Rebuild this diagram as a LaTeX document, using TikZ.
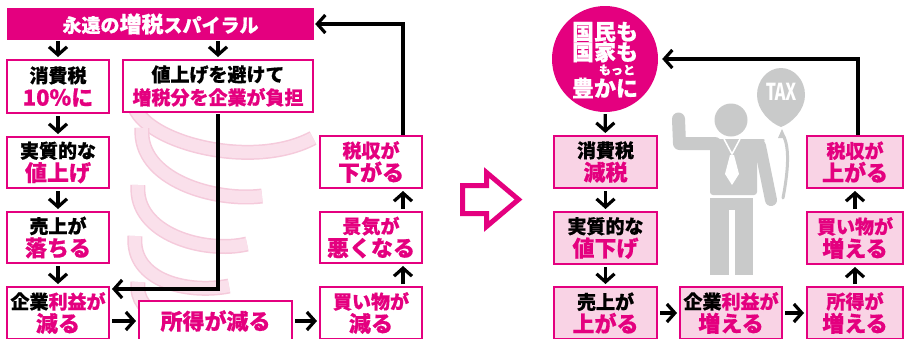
\documentclass[tikz,border=0pt]{standalone}
\usepackage{fontspec}
\setmainfont{Noto Sans CJK JP}[BoldFeatures={FakeBold=0.6}]
\newfontfamily\taxfont{Fira Sans}
\usetikzlibrary{arrows.meta,calc}
\definecolor{mag}{HTML}{E4007F}
\definecolor{pinkbg}{HTML}{F9D3E5}
\definecolor{swirl}{HTML}{FAE0EB}
\definecolor{swirledge}{HTML}{F5CADB}
\definecolor{figgray}{HTML}{C9CACA}
\newcommand\mg[1]{\textcolor{mag}{#1}}
\newcommand\biglineJ[1]{{\fontsize{22}{24}\selectfont #1}}
\tikzset{
  boxbase/.style={draw=mag, line width=2pt, align=center, inner sep=0pt,
    minimum width=102pt, minimum height=52pt,
    font=\bfseries\fontsize{19}{23}\selectfont},
  lbox/.style={boxbase, fill=white},
  rbox/.style={boxbase, fill=pinkbg},
  arr/.style={line width=3.2pt, -{Straight Barb[length=8pt,width=18pt]}},
  gap/.style={shorten <=2pt, shorten >=2pt},
  circtext/.style={text=white, inner sep=0pt, font=\bfseries\fontsize{22}{22}\selectfont},
}
% one turn of the pale ribbon spiral
\newcommand\band[1]{%
  \draw[swirledge, line width=15pt] #1;
  \draw[swirl, line width=12pt] #1;}
\begin{document}
\begin{tikzpicture}[x=1pt,y=-1pt]
\useasboundingbox (0,0) rectangle (904,338);
\clip (0,0) rectangle (904,338);
\fill[white] (0,0) rectangle (904,338);

% ---------- left: the spiral ----------
\band{(133,100) .. controls (135,140) and (250,172) .. (313,138)}
\band{(142,128) .. controls (138,180) and (215,202) .. (262,196)}
\band{(138,185) .. controls (134,234) and (205,254) .. (247,244)}
\band{(135,236) .. controls (131,282) and (190,294) .. (229,286)}
\band{(138,282) .. controls (134,318) and (180,326) .. (215,320)}

\node[fill=mag, minimum width=307pt, minimum height=32pt, inner sep=0pt,
  text=white, font=\bfseries\fontsize{19}{21}\selectfont] (title) at (160.5,24)
  {永遠の\biglineJ{増税}スパイラル};

\node[lbox, minimum height=53pt] (l1) at (58,86.5) {消費税\\\mg{\biglineJ{10\%に}}};
\node[lbox, minimum width=190pt] (b2) at (218,86) {値上げを避けて\\\mg{増税分を企業が負担}};
\node[lbox, minimum height=51pt] (l2) at (58,162.5) {実質的な\\\mg{\biglineJ{値上げ}}};
\node[lbox, minimum height=51pt] (l3) at (58,237.5) {売上が\\\mg{\biglineJ{落ちる}}};
\node[lbox] (l4) at (58,313) {企業\mg{利益が}\\\mg{\biglineJ{減る}}};
\node[lbox, minimum width=153pt, minimum height=40pt] (m1) at (215.5,321) {\mg{\biglineJ{所得が減る}}};
\node[lbox] (r1) at (371,313) {\mg{買い物が}\\\mg{\biglineJ{減る}}};
\node[lbox, minimum height=51pt] (r2) at (371,237.5) {\mg{景気が}\\\mg{\biglineJ{悪くなる}}};
\node[lbox] (r3) at (371,162) {\mg{税収が}\\\mg{\biglineJ{下がる}}};

\coordinate (lc) at (403,0);
\coordinate (kk) at (112,289);

\draw[arr, shorten >=2pt, shorten <=1pt] (title.south -| l1) -- (l1);
\draw[arr, shorten >=2pt, shorten <=1pt] (title.south -| b2) -- (b2);
\draw[arr, gap] (l1) -- (l2);
\draw[arr, gap] (l2) -- (l3);
\draw[arr, gap] (l3) -- (l4);
\draw[arr, shorten <=1pt] (b2.south) |- (kk);
\draw[arr, gap] (l4.east |- m1) -- (m1);
\draw[arr, gap] (m1) -- (r1.west |- m1);
\draw[arr, gap] (r1.north -| lc) -- (r2.south -| lc);
\draw[arr, gap] (r2.north -| lc) -- (r3.south -| lc);
\draw[arr, shorten >=1pt] (r3.north -| lc) |- (title.east);

% ---------- middle: hollow arrow ----------
\draw[mag, line width=5pt, miter limit=10]
  (462.5,185.5) -- (486.5,185.5) -- (486.5,172.5) -- (518.5,199.5)
  -- (486.5,226.5) -- (486.5,213.5) -- (462.5,213.5) -- cycle;

% ---------- right: figure with balloon ----------
\fill[figgray] (781,68) .. controls (768,68) and (757,80) .. (757,95)
  .. controls (757,110) and (770,123) .. (781,127)
  .. controls (792,123) and (805,110) .. (805,95)
  .. controls (805,80) and (794,68) .. (781,68) -- cycle;
\node[text=white, font=\taxfont\bfseries\fontsize{25}{25}\selectfont, inner sep=0pt] (tax) at (781,92) {\scalebox{0.72}[1]{TAX}};
\fill[figgray] (778,138) -- (782,129) -- (786,138) -- cycle;
\draw[figgray, line width=3pt, line cap=round] (784,137) .. controls (791,152) and (786,182) .. (783,198);
\fill[figgray] (731,120) circle[radius=16.5];
\draw[figgray, line width=13pt, line cap=round, line join=round] (678.5,119) -- (679.5,143.5) -- (715,143.5);
\draw[figgray, line width=12pt, line cap=round] (760,146) -- (771,200);
\fill[figgray, rounded corners=3pt] (710,195) -- (710,139) -- (766,139) -- (757,152) -- (757,195) -- cycle;
\fill[figgray] (710,198) rectangle (753,275);
\fill[white] (729,210) rectangle (735,276);
\draw[white, line width=1.5pt] (724,139) -- (732,154) -- (740,139);
\fill[white] (730,155) -- (734,155) -- (739,174) -- (732,185) -- (725,174) -- cycle;

% ---------- right: the virtuous cycle ----------
\node[circle, fill=mag, minimum size=106pt, inner sep=0pt] (circ) at (605,59) {};
\node[circtext] (c1) at (605,32) {国民も};
\node[circtext] (c2) at (605,52) {国家も};
\node[circtext, font=\bfseries\fontsize{12}{12}\selectfont] (c3) at (617,70) {もっと};
\node[circtext] (c4) at (605,88) {豊かに};

\node[rbox, minimum width=103pt] (s1) at (605.5,162) {消費税\\\mg{\biglineJ{減税}}};
\node[rbox, minimum width=103pt] (s2) at (605.5,238) {実質的な\\\mg{\biglineJ{値下げ}}};
\node[rbox, minimum width=103pt] (s3) at (605.5,313) {売上が\\\mg{\biglineJ{上がる}}};
\node[rbox] (s4) at (731,313) {企業\mg{利益が}\\\mg{\biglineJ{増える}}};
\node[rbox, minimum width=96pt] (s5) at (855,313) {\mg{所得が}\\\mg{\biglineJ{増える}}};
\node[rbox, minimum width=96pt] (s6) at (855,238) {\mg{買い物が}\\\mg{\biglineJ{増える}}};
\node[rbox, minimum width=96pt] (s7) at (855,162) {\mg{税収が}\\\mg{\biglineJ{上がる}}};

\coordinate (rc) at (858,0);
\draw[arr, gap] (circ) -- (s1);
\draw[arr, gap] (s1) -- (s2);
\draw[arr, gap] (s2) -- (s3);
\draw[arr, gap] (s3) -- (s4);
\draw[arr, gap] (s4) -- (s5);
\draw[arr, gap] (s5) -- (s6);
\draw[arr, gap] (s6) -- (s7);
\draw[arr, shorten >=4pt] (s7.north -| rc) |- (circ);
\end{tikzpicture}
\end{document}
